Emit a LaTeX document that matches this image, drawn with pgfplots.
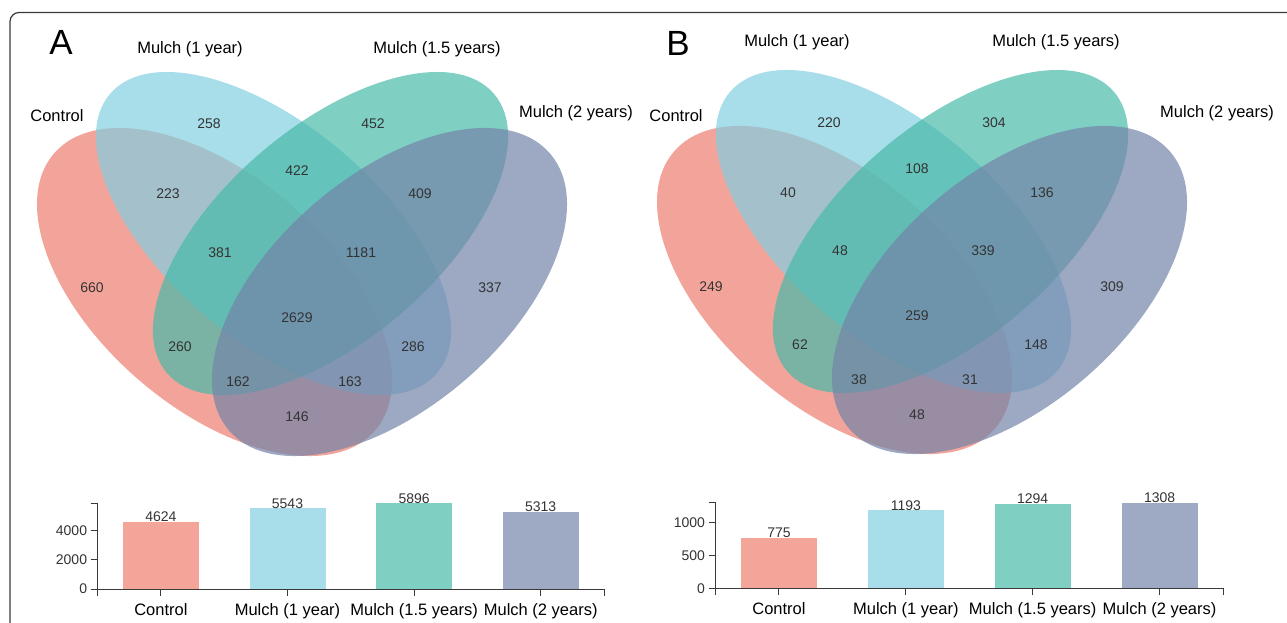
\documentclass[border=0pt]{standalone}
\usepackage{fontspec}
\setmainfont{Liberation Sans}
\usepackage{pgfplots}
\usepackage{pgfplotstable}
\pgfplotsset{compat=1.18}

\definecolor{cRed}{HTML}{EE7E6F}
\definecolor{cBlue}{HTML}{83CEE1}
\definecolor{cGreen}{HTML}{48BAA9}
\definecolor{cPurple}{HTML}{7384A9}
\definecolor{bRed}{HTML}{F3A59A}
\definecolor{bBlue}{HTML}{A8DDEA}
\definecolor{bGreen}{HTML}{80CFC3}
\definecolor{bPurple}{HTML}{9EA9C4}
\definecolor{numgray}{HTML}{333333}
\definecolor{axgray}{HTML}{3A3A3A}

\pgfplotstableread{
x y label
209 124 258
373 124 452
297 171 422
168 194 223
420 194 409
220 253 381
361 253 1181
92 288 660
490 288 337
297 318 2629
180 347 260
413 347 286
238 382 162
350 382 163
297 417 146
}\vennA

\pgfplotstableread{
x y label
829 123 220
994 123 304
917 169 108
788 193 40
1042 193 136
840 251 48
983 251 339
711 287 249
1112 287 309
917 316 259
800 345 62
1036 345 148
859 380 38
970 380 31
917 415 48
}\vennB

\newcommand{\lab}{\fontsize{16.5}{19}\selectfont}
\newcommand{\num}{\fontsize{14}{16}\selectfont}

\pgfplotsset{
  barstyle/.style={ybar, bar width=76pt, bar shift=0pt, draw=none,
    nodes near coords, point meta=explicit symbolic,
    every node near coord/.append style={font=\num, text=numgray, anchor=south, inner sep=0pt, yshift=-0.5pt}},
  barax/.style={anchor=south west, scale only axis,
    xmin=-0.5, xmax=3.5, ymin=0,
    axis x line*=bottom, axis y line*=left,
    axis line style={axgray, line width=0.9pt},
    tick align=outside, major tick length=7pt,
    tick style={axgray, line width=0.9pt},
    xtick={-0.5,0,1,2,3,3.5},
    xticklabels={,Control,Mulch (1 year),Mulch (1.5 years),Mulch (2 years),},
    x tick label style={font=\lab, text=black, yshift=-4pt},
    y tick label style={font=\num, text=numgray},
    clip=false, enlargelimits=false}
}

\begin{document}
\begin{tikzpicture}
\begin{axis}[at={(0pt,0pt)}, anchor=south west, scale only axis,
  width=1287pt, height=623pt, xmin=0, xmax=1287, ymin=0, ymax=623,
  y dir=reverse, hide axis, clip=false]
  % frame
  \draw[axgray, line width=1.2pt, rounded corners=9pt]
    (axis cs:10,660) -- (axis cs:10,12.5) -- (axis cs:1310,12.5);
  % ---- Panel A ellipses
  \fill[cRed, fill opacity=0.7, rotate around={-40.8:(axis cs:214.5,292)}]
    (axis cs:214.5,292) ellipse [x radius=212pt, y radius=116pt];
  \fill[cBlue, fill opacity=0.7, rotate around={-40.5:(axis cs:273.5,233.5)}]
    (axis cs:273.5,233.5) ellipse [x radius=215pt, y radius=106.7pt];
  \fill[cGreen, fill opacity=0.7, rotate around={40.5:(axis cs:330.5,233.5)}]
    (axis cs:330.5,233.5) ellipse [x radius=215pt, y radius=106.7pt];
  \fill[cPurple, fill opacity=0.7, rotate around={40.8:(axis cs:389.5,292)}]
    (axis cs:389.5,292) ellipse [x radius=212pt, y radius=116pt];
  % ---- Panel B ellipses
  \fill[cRed, fill opacity=0.7, rotate around={-40.8:(axis cs:834.5,290)}]
    (axis cs:834.5,290) ellipse [x radius=212pt, y radius=116pt];
  \fill[cBlue, fill opacity=0.7, rotate around={-40.5:(axis cs:893.5,231.5)}]
    (axis cs:893.5,231.5) ellipse [x radius=215pt, y radius=106.7pt];
  \fill[cGreen, fill opacity=0.7, rotate around={40.5:(axis cs:950.5,231.5)}]
    (axis cs:950.5,231.5) ellipse [x radius=215pt, y radius=106.7pt];
  \fill[cPurple, fill opacity=0.7, rotate around={40.8:(axis cs:1009.5,290)}]
    (axis cs:1009.5,290) ellipse [x radius=212pt, y radius=116pt];
  % numbers
  \addplot[only marks, mark=none, nodes near coords, point meta=explicit symbolic,
    every node near coord/.append style={font=\num, text=numgray, anchor=center}]
    table[x=x, y=y, meta=label] {\vennA};
  \addplot[only marks, mark=none, nodes near coords, point meta=explicit symbolic,
    every node near coord/.append style={font=\num, text=numgray, anchor=center}]
    table[x=x, y=y, meta=label] {\vennB};
  % labels A
  \node[font=\fontsize{35}{40}\selectfont] at (axis cs:61,42.5) {A};
  \node[font=\lab] at (axis cs:190,49) {Mulch (1 year)};
  \node[font=\lab] at (axis cs:437,49) {Mulch (1.5 years)};
  \node[font=\lab] at (axis cs:57,116) {Control};
  \node[font=\lab] at (axis cs:576,113) {Mulch (2 years)};
  % labels B
  \node[font=\fontsize{35}{40}\selectfont] at (axis cs:678,43) {B};
  \node[font=\lab] at (axis cs:797,42) {Mulch (1 year)};
  \node[font=\lab] at (axis cs:1056,42) {Mulch (1.5 years)};
  \node[font=\lab] at (axis cs:676,116) {Control};
  \node[font=\lab] at (axis cs:1217,113) {Mulch (2 years)};
\end{axis}

% ---- Bar chart A
\begin{axis}[barax, at={(97.6pt,34pt)}, width=506.4pt, height=86pt,
  ymax=5896, ytick={0,2000,4000,5896}, yticklabels={0,2000,4000,}]
  \addplot[barstyle, fill=bRed] coordinates {(0,4624) [4624]};
  \addplot[barstyle, fill=bBlue] coordinates {(1,5543) [5543]};
  \addplot[barstyle, fill=bGreen] coordinates {(2,5896) [5896]};
  \addplot[barstyle, fill=bPurple] coordinates {(3,5313) [5313]};
\end{axis}

% ---- Bar chart B
\begin{axis}[barax, at={(715.5pt,34.7pt)}, width=507.5pt, height=85.6pt,
  ymax=1308, ytick={0,500,1000,1308}, yticklabels={0,500,1000,}]
  \addplot[barstyle, fill=bRed] coordinates {(0,775) [775]};
  \addplot[barstyle, fill=bBlue] coordinates {(1,1193) [1193]};
  \addplot[barstyle, fill=bGreen] coordinates {(2,1294) [1294]};
  \addplot[barstyle, fill=bPurple] coordinates {(3,1308) [1308]};
\end{axis}

\pgfresetboundingbox
\path[use as bounding box] (0pt,0pt) rectangle (1287pt,623pt);
\end{tikzpicture}
\end{document}
